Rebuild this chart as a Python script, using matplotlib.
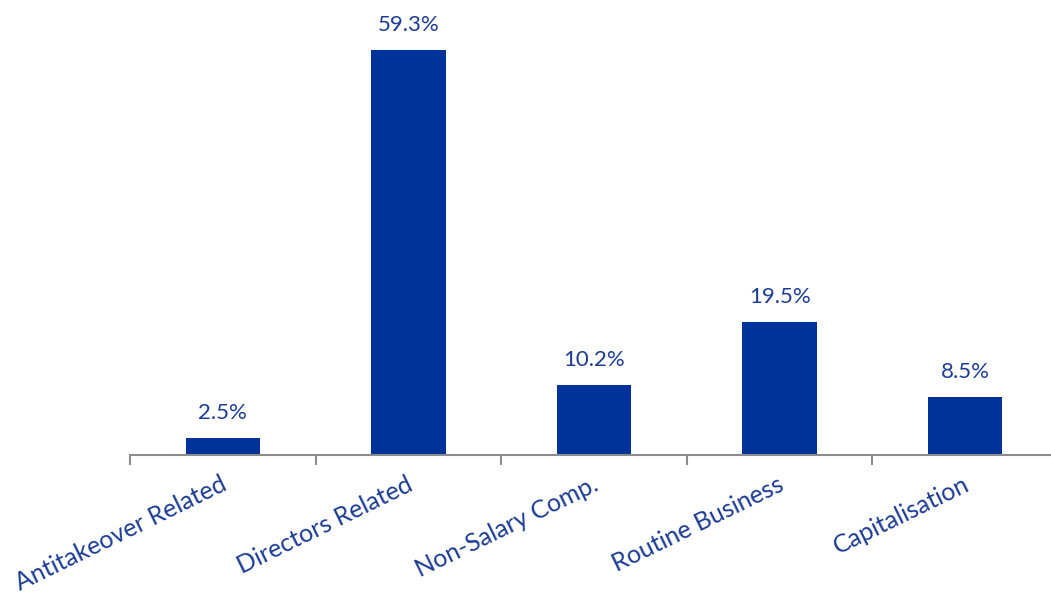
import matplotlib
matplotlib.use("Agg")
import matplotlib.pyplot as plt
import numpy as np

categories = ["Antitakeover Related", "Directors Related", "Non-Salary Comp.",
              "Routine Business", "Capitalisation"]
values = [2.5, 59.3, 10.2, 19.5, 8.5]
value_labels = ["2.5%", "59.3%", "10.2%", "19.5%", "8.5%"]

bar_color = "#003399"
text_color = "#1c3c94"
axis_color = "#8c8c8c"

plt.rcParams["font.family"] = ["Lato", "DejaVu Sans"]

W, H = 1051, 594
fig = plt.figure(figsize=(W / 100, H / 100), dpi=100)
ax = fig.add_axes([130 / W, 1 - 455 / H, 928 / W, 455 / H])

x = np.arange(len(categories))
ax.bar(x, values, width=0.4, color=bar_color, zorder=2)

ax.set_xlim(-0.5, len(categories) - 0.5)
ax.set_ylim(0, 455 / 6.83)

for xi, v, lab in zip(x, values, value_labels):
    ax.annotate(lab, (xi, v), xytext=(0, 11), textcoords="offset points",
                ha="center", va="bottom", fontsize=16, color=text_color)

for s in ["top", "right", "left"]:
    ax.spines[s].set_visible(False)
ax.spines["bottom"].set_color(axis_color)
ax.spines["bottom"].set_linewidth(1.5)
ax.set_yticks([])
ax.set_xticks(np.arange(len(categories) + 1) - 0.5)
ax.set_xticklabels([])
ax.tick_params(axis="x", direction="out", length=7, width=1.5, color=axis_color)

for xi, cat in zip(x, categories):
    ax.annotate(cat, (xi, 0), xytext=(2, -20), textcoords="offset points",
                ha="right", va="center", rotation=26, rotation_mode="anchor",
                fontsize=18, color=text_color, annotation_clip=False)

fig.savefig("out.png", dpi=100)
